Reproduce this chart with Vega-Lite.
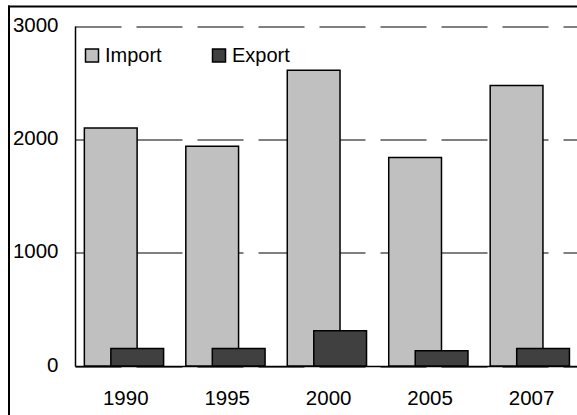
{
  "$schema": "https://vega.github.io/schema/vega-lite/v6.json",
  "width": 568,
  "height": 359.5,
  "autosize": "none",
  "padding": {"left": 9, "top": 6.5, "right": 0, "bottom": 49},
  "background": "white",
  "config": {"view": {"stroke": null}, "font": "Liberation Sans"},
  "datasets": {
    "trade": [
      {"year": "1990", "type": "Import", "value": 2100},
      {"year": "1995", "type": "Import", "value": 1940},
      {"year": "2000", "type": "Import", "value": 2610},
      {"year": "2005", "type": "Import", "value": 1840},
      {"year": "2007", "type": "Import", "value": 2475},
      {"year": "1990", "type": "Export", "value": 155},
      {"year": "1995", "type": "Export", "value": 155},
      {"year": "2000", "type": "Export", "value": 310},
      {"year": "2005", "type": "Export", "value": 135},
      {"year": "2007", "type": "Export", "value": 155}
    ],
    "frame": [
      {"fx": 0, "fx2": 0, "fy": 0, "fy2": 1},
      {"fx": 0, "fx2": 1, "fy": 1, "fy2": 1}
    ]
  },
  "layer": [
    {
      "data": {"name": "frame"},
      "mark": {"type": "rule", "color": "black", "strokeWidth": 2, "strokeCap": "square"},
      "encoding": {
        "x": {"field": "fx", "type": "quantitative", "scale": {"domain": [0, 1]}, "axis": null},
        "x2": {"field": "fx2"},
        "y": {"field": "fy", "type": "quantitative", "scale": {"domain": [0, 1], "range": [409, 0]}, "axis": null},
        "y2": {"field": "fy2"}
      }
    },
    {
      "data": {"name": "trade"},
      "encoding": {
        "x": {"field": "year", "type": "nominal", "sort": null,
          "scale": {"type": "band", "range": [66, 573.3], "paddingInner": 0, "paddingOuter": 0},
          "axis": {"orient": "bottom", "title": null, "labelAngle": 0, "ticks": false, "domainColor": "black", "domainWidth": 1.5, "labelFontSize": 20.5, "labelColor": "black", "labelPadding": 22, "grid": false}},
        "y": {"field": "value", "type": "quantitative",
          "scale": {"domain": [0, 3000], "range": [359.5, 19.5], "nice": false},
          "axis": {"orient": "left", "offset": -66, "values": [0, 1000, 2000, 3000], "format": "d", "title": null, "ticks": false, "domainColor": "black", "domainWidth": 1.5, "grid": true, "gridColor": "black", "gridWidth": 1, "gridDash": [46, 15], "labelFontSize": 20.5, "labelPadding": 17, "labelColor": "black", "labelOffset": -1}},
        "color": {"field": "type", "type": "nominal",
          "scale": {"domain": ["Import", "Export"], "range": ["#c0c0c0", "#404040"]},
          "legend": {"orient": "none", "legendX": 73, "legendY": 39, "direction": "horizontal", "title": null, "symbolType": "square", "symbolSize": 169, "symbolStrokeColor": "black", "symbolStrokeWidth": 1.5, "symbolOpacity": 1, "labelFontSize": 20, "labelColor": "black", "labelOffset": 3, "columnPadding": 47}}
      },
      "layer": [
        {
          "transform": [{"filter": "datum.type === 'Import'"}],
          "mark": {"type": "bar", "width": {"band": 0.52}, "xOffset": -15, "stroke": "black", "strokeWidth": 1.5, "opacity": 1}
        },
        {
          "transform": [{"filter": "datum.type === 'Export'"}],
          "mark": {"type": "bar", "width": {"band": 0.52}, "xOffset": 11.5, "stroke": "black", "strokeWidth": 1.5, "opacity": 1}
        }
      ]
    }
  ],
  "resolve": {"scale": {"x": "independent", "y": "independent"}, "axis": {"x": "independent", "y": "independent"}}
}
